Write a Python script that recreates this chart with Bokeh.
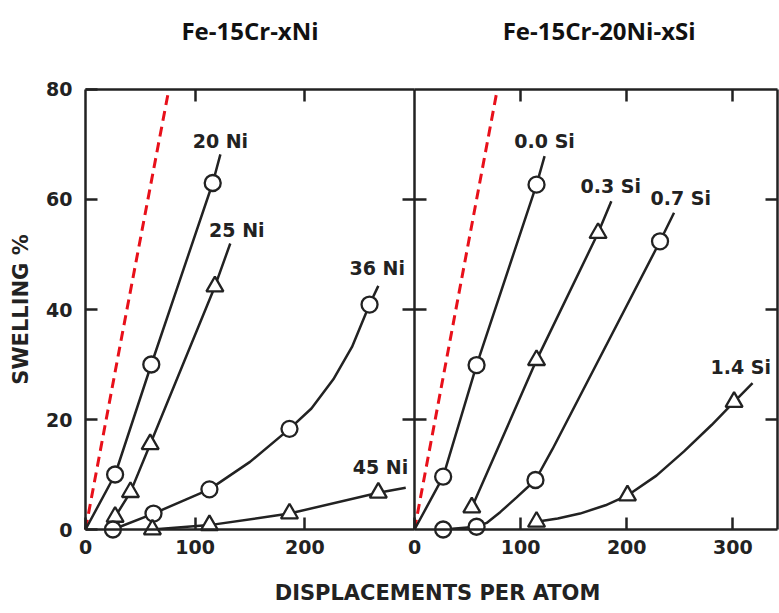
from bokeh.plotting import figure
from bokeh.models import Range1d, LinearAxis, Label, FixedTicker, ColumnDataSource
from bokeh.core.properties import value
from bokeh.embed import file_html
from bokeh.resources import INLINE

# ---------------- data ----------------
# Left panel: Fe-15Cr-xNi  (x = dpa, y = swelling %)
ni20_line_x = [0, 27, 60, 116, 123]
ni20_line_y = [0, 10, 30, 63, 68.2]
ni20_pts_x = [27, 60, 116]
ni20_pts_y = [10, 30, 63]

ni25_line_x = [27, 41, 59, 118, 132]
ni25_line_y = [2.3, 6.8, 15.5, 44.2, 52]
ni25_pts_x = [27, 41, 59, 118]
ni25_pts_y = [2.3, 6.8, 15.5, 44.2]

ni36_line_x = [25, 62, 113, 150, 186, 206, 226, 243, 259, 267]
ni36_line_y = [0, 2.9, 7.3, 12.3, 18.3, 22, 27.3, 33.2, 40.9, 44.3]
ni36_pts_x = [25, 62, 113, 186, 259]
ni36_pts_y = [0, 2.9, 7.3, 18.3, 40.9]

ni45_line_x = [61, 113, 186, 267, 292]
ni45_line_y = [0, 0.8, 2.9, 6.7, 7.6]
ni45_pts_x = [61, 113, 186, 267]
ni45_pts_y = [0, 0.8, 2.9, 6.7]

ni_ref_x = [0, 33, 76]
ni_ref_y = [0, 35, 80]

# Right panel: Fe-15Cr-20Ni-xSi
si00_line_x = [0, 27, 58.5, 115, 122.6]
si00_line_y = [0, 9.6, 29.9, 62.7, 67.9]
si00_pts_x = [27, 58.5, 115]
si00_pts_y = [9.6, 29.9, 62.7]

si03_line_x = [54, 115, 173, 185.5]
si03_line_y = [4, 30.8, 53.9, 59.7]
si03_pts_x = [54, 115, 173]
si03_pts_y = [4, 30.8, 53.9]

si07_line_x = [27, 58.5, 68, 81, 96, 114, 130, 231.4, 244.6]
si07_line_y = [0, 0.5, 1.2, 3.2, 5.8, 9, 14.6, 52.4, 57.6]
si07_pts_x = [27, 58.5, 114, 231.4]
si07_pts_y = [0, 0.5, 9, 52.4]

si14_line_x = [115, 135, 156, 180, 200.7, 228, 254, 280, 301.2, 318.6]
si14_line_y = [1.4, 2.0, 2.9, 4.4, 6.2, 9.8, 14.2, 19.0, 23.2, 26.6]
si14_pts_x = [115, 200.7, 301.2]
si14_pts_y = [1.4, 6.2, 23.2]

si_ref_x = [0, 78]
si_ref_y = [0, 80]

ni_labels = ["20 Ni", "25 Ni", "36 Ni", "45 Ni"]
ni_label_x = [123, 138, 266, 269]
ni_label_y = [70.6, 54.5, 47.5, 11.4]

si_labels = ["0.0 Si", "0.3 Si", "0.7 Si", "1.4 Si"]
si_label_x = [122.6, 185, 251, 307.5]
si_label_y = [70.6, 62.4, 60.3, 29.6]

ni_xticks = [0, 100, 200]
si_xticks = [0, 100, 200, 300]
y_ticks = [0, 20, 40, 60, 80]

left_title = "Fe-15Cr-xNi"
right_title = "Fe-15Cr-20Ni-xSi"
x_title = "DISPLACEMENTS PER ATOM"
y_title = "SWELLING %"

# ---------------- figure ----------------
INK = "#222222"
RED = "#e8101a"
FONT = "DejaVu Sans"
TFONT = "Open Sans"

# the frame covers the whole canvas so that every text lies inside it
p = figure(width=779, height=613, output_backend="svg", toolbar_location=None,
           x_range=Range1d(-77.5, 632.8), y_range=Range1d(-14.36, 95.27),
           min_border_left=0, min_border_right=0, min_border_top=5,
           min_border_bottom=5, x_axis_location=None, y_axis_location=None)
p.extra_x_ranges = {"si": Range1d(-390.2, 344.0)}
p.outline_line_color = None
p.grid.visible = False
p.background_fill_color = "white"
p.border_fill_color = "white"


def style_axis(ax, labels=True):
    ax.axis_line_color = INK
    ax.axis_line_width = 2.5
    ax.major_tick_line_color = INK
    ax.major_tick_line_width = 2.5
    ax.major_tick_in = 12
    ax.major_tick_out = 0
    ax.minor_tick_line_color = None
    if labels:
        ax.major_label_text_font = FONT
        ax.major_label_text_font_style = "bold"
        ax.major_label_text_font_size = "19px"
        ax.major_label_text_color = INK
    else:
        ax.major_label_text_color = None
        ax.major_label_text_font_size = "1px"
        ax.major_label_standoff = 0


# left y axis with labels
yl = LinearAxis(ticker=FixedTicker(ticks=y_ticks), bounds=(0, 80), fixed_location=0)
style_axis(yl)
yl.major_label_standoff = 13
yl.axis_label = y_title
yl.axis_label_text_font = FONT
yl.axis_label_text_font_style = "bold"
yl.axis_label_text_font_size = "21px"
yl.axis_label_text_color = INK
yl.axis_label_standoff = 10
p.add_layout(yl, "left")

# middle divider (ticks both ways)
ym = LinearAxis(ticker=FixedTicker(ticks=[20, 40, 60]), bounds=(0, 80), fixed_location=300)
style_axis(ym, labels=False)
ym.major_tick_out = 12
p.add_layout(ym, "right")

# right edge
yr = LinearAxis(ticker=FixedTicker(ticks=[20, 40, 60]), bounds=(0, 80),
                x_range_name="si", fixed_location=342.5)
style_axis(yr, labels=False)
p.add_layout(yr, "right")

# bottom axes
xb1 = LinearAxis(ticker=FixedTicker(ticks=ni_xticks), bounds=(0, 300), fixed_location=0)
style_axis(xb1)
xb1.major_label_standoff = 10
p.add_layout(xb1, "below")
xb2 = LinearAxis(ticker=FixedTicker(ticks=si_xticks), bounds=(0, 342.5),
                 x_range_name="si", fixed_location=0)
style_axis(xb2)
xb2.major_label_standoff = 10
p.add_layout(xb2, "below")

# top axes
xt1 = LinearAxis(ticker=FixedTicker(ticks=[100, 200]), bounds=(0, 300), fixed_location=80)
style_axis(xt1, labels=False)
p.add_layout(xt1, "above")
xt2 = LinearAxis(ticker=FixedTicker(ticks=[100, 200, 300]), bounds=(0, 342.5),
                 x_range_name="si", fixed_location=80)
style_axis(xt2, labels=False)
p.add_layout(xt2, "above")

# reference dashed lines
p.line(ni_ref_x, ni_ref_y, line_color=RED, line_width=3, line_dash="10 6")
p.line(si_ref_x, si_ref_y, line_color=RED, line_width=3, line_dash="10 6", x_range_name="si")

LW = 2.5


def series(lx, ly, mx, my, marker, rng="default"):
    p.line(lx, ly, line_color=INK, line_width=LW, x_range_name=rng)
    size = 16 if marker == "circle" else 17
    p.scatter(mx, my, marker=marker, size=size, fill_color="white",
              line_color=INK, line_width=2.3, x_range_name=rng)


series(ni20_line_x, ni20_line_y, ni20_pts_x, ni20_pts_y, "circle")
series(ni25_line_x, ni25_line_y, ni25_pts_x, ni25_pts_y, "triangle")
series(ni36_line_x, ni36_line_y, ni36_pts_x, ni36_pts_y, "circle")
series(ni45_line_x, ni45_line_y, ni45_pts_x, ni45_pts_y, "triangle")

series(si00_line_x, si00_line_y, si00_pts_x, si00_pts_y, "circle", "si")
series(si03_line_x, si03_line_y, si03_pts_x, si03_pts_y, "triangle", "si")
series(si07_line_x, si07_line_y, si07_pts_x, si07_pts_y, "circle", "si")
series(si14_line_x, si14_line_y, si14_pts_x, si14_pts_y, "triangle", "si")

# series labels
ni_src = ColumnDataSource(dict(x=ni_label_x, y=ni_label_y, t=ni_labels))
p.text("x", "y", text="t", source=ni_src, text_font=value(FONT), text_font_style="bold",
       text_font_size="19px", text_color=INK, text_align="center", text_baseline="middle")
si_src = ColumnDataSource(dict(x=si_label_x, y=si_label_y, t=si_labels))
p.text("x", "y", text="t", source=si_src, text_font=value(FONT), text_font_style="bold",
       text_font_size="19px", text_color=INK, text_align="center", text_baseline="middle",
       x_range_name="si")

# panel titles
p.add_layout(Label(x=150, y=90.7, text=left_title, text_font=TFONT,
                   text_font_style="bold", text_font_size="24px", text_color="#111111",
                   text_align="center", text_baseline="middle"))
p.add_layout(Label(x=174, y=90.7, x_range_name="si", text=right_title,
                   text_font=TFONT, text_font_style="bold",
                   text_font_size="24px", text_color="#111111",
                   text_align="center", text_baseline="middle"))

# shared x axis title
p.add_layout(Label(x=321, y=-11.6, text=x_title, text_font=FONT,
                   text_font_style="bold", text_font_size="21px", text_color=INK,
                   text_align="center", text_baseline="middle"))

open("out.html", "w").write(file_html(p, INLINE))
